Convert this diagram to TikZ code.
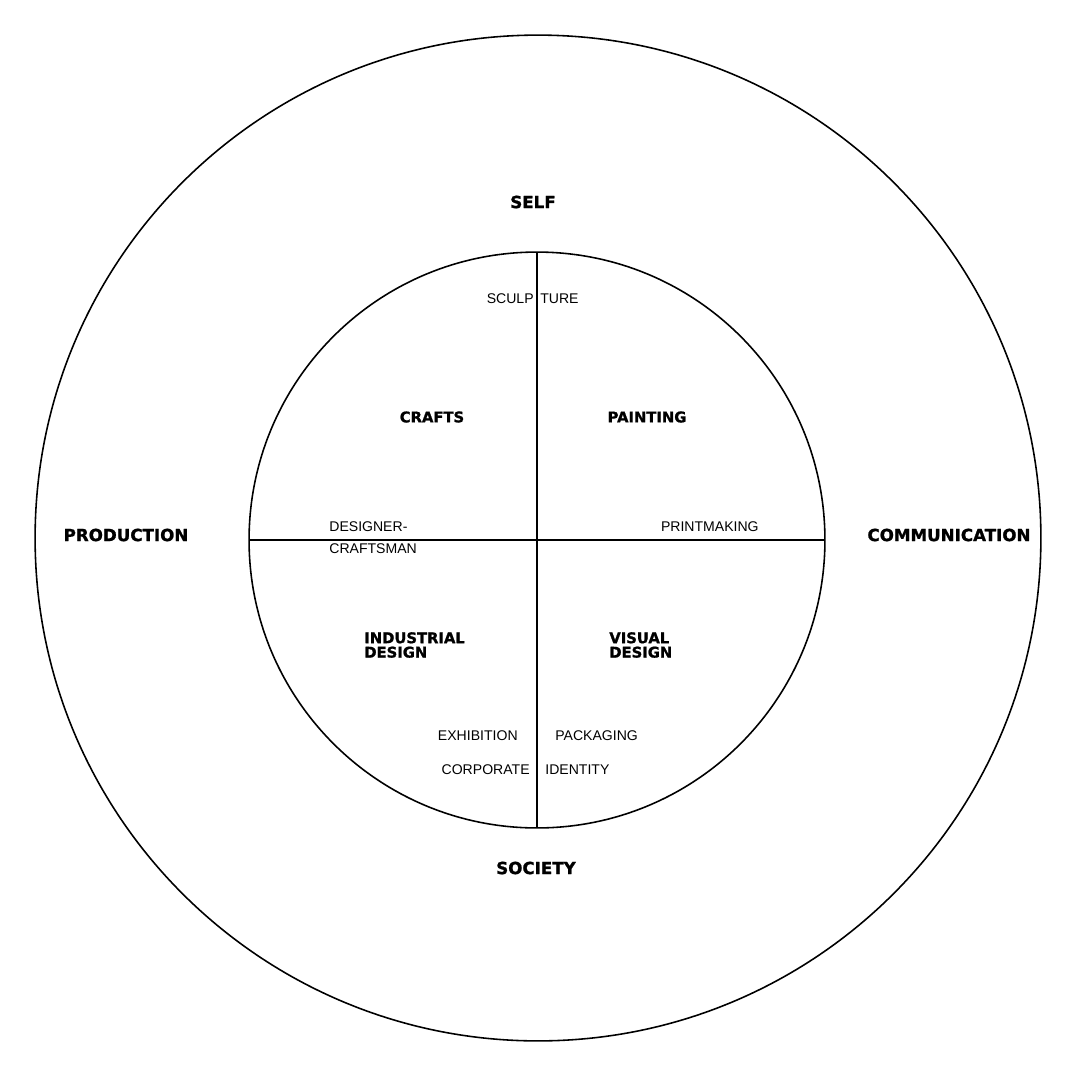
\documentclass[tikz,border=0pt]{standalone}
\usepackage{fontspec}
\setmainfont{Liberation Sans}
\newfontfamily\heavyfont[BoldFont={DejaVu Sans Bold}, BoldFeatures={FakeBold=1.2}]{DejaVu Sans}
\usetikzlibrary{positioning}

\begin{document}
\begin{tikzpicture}[
  x=0.02cm, y=-0.02cm,
  ring/.style={draw, circle, line width=0.9pt, inner sep=0pt, outer sep=0pt},
  divider/.style={line width=0.9pt},
  pole/.style={inner sep=0pt, font=\heavyfont\bfseries\fontsize{9.5}{11}\selectfont},
  field/.style={inner sep=0pt, align=left, font=\heavyfont\bfseries\fontsize{8.4}{8.2}\selectfont},
  medium/.style={inner sep=0pt, align=left, font=\fontsize{8}{12.5}\selectfont},
]
  \useasboundingbox (0,0) rectangle (1080,1080);

  % the two rings
  \node[ring, minimum size=20.12cm] (outer) at (538,538) {};
  \node[ring, minimum size=11.52cm] (inner) at (537,540) {};
  \draw[divider] (inner.north) -- (inner.south);
  \draw[divider] (inner.west) -- (inner.east);

  % poles
  \node[pole] (self) at (533,202) {SELF};
  \node[pole] (society) at (536,868) {SOCIETY};
  \node[pole] (production) at (126,535) {PRODUCTION};
  \node[pole] (communication) at (949,535) {COMMUNICATION};

  % fields
  \node[field] (crafts) at (432,417) {CRAFTS};
  \node[field] (painting) at (647,417) {PAINTING};
  \node[field, anchor=west] (industrial) at (364,645) {INDUSTRIAL\\DESIGN};
  \node[field, anchor=west] (visual) at (609,645) {VISUAL\\DESIGN};

  % media on the borders
  \node[medium, anchor=east] (sculp) at (534,299) {SCULP};
  \node[medium, anchor=west] (ture) at (540,299) {TURE};
  \node[medium, anchor=west] (designer) at (329,538) {DESIGNER-\\CRAFTSMAN};
  \node[medium, anchor=east] (printmaking) at (759,527) {PRINTMAKING};
  \node[medium, anchor=east] (exhibition) at (518,736) {EXHIBITION};
  \node[medium, anchor=west] (packaging) at (555,736) {PACKAGING};
  \node[medium, anchor=east] (corporate) at (530,770) {CORPORATE};
  \node[medium, anchor=west] (identity) at (545,770) {IDENTITY};
\end{tikzpicture}
\end{document}
